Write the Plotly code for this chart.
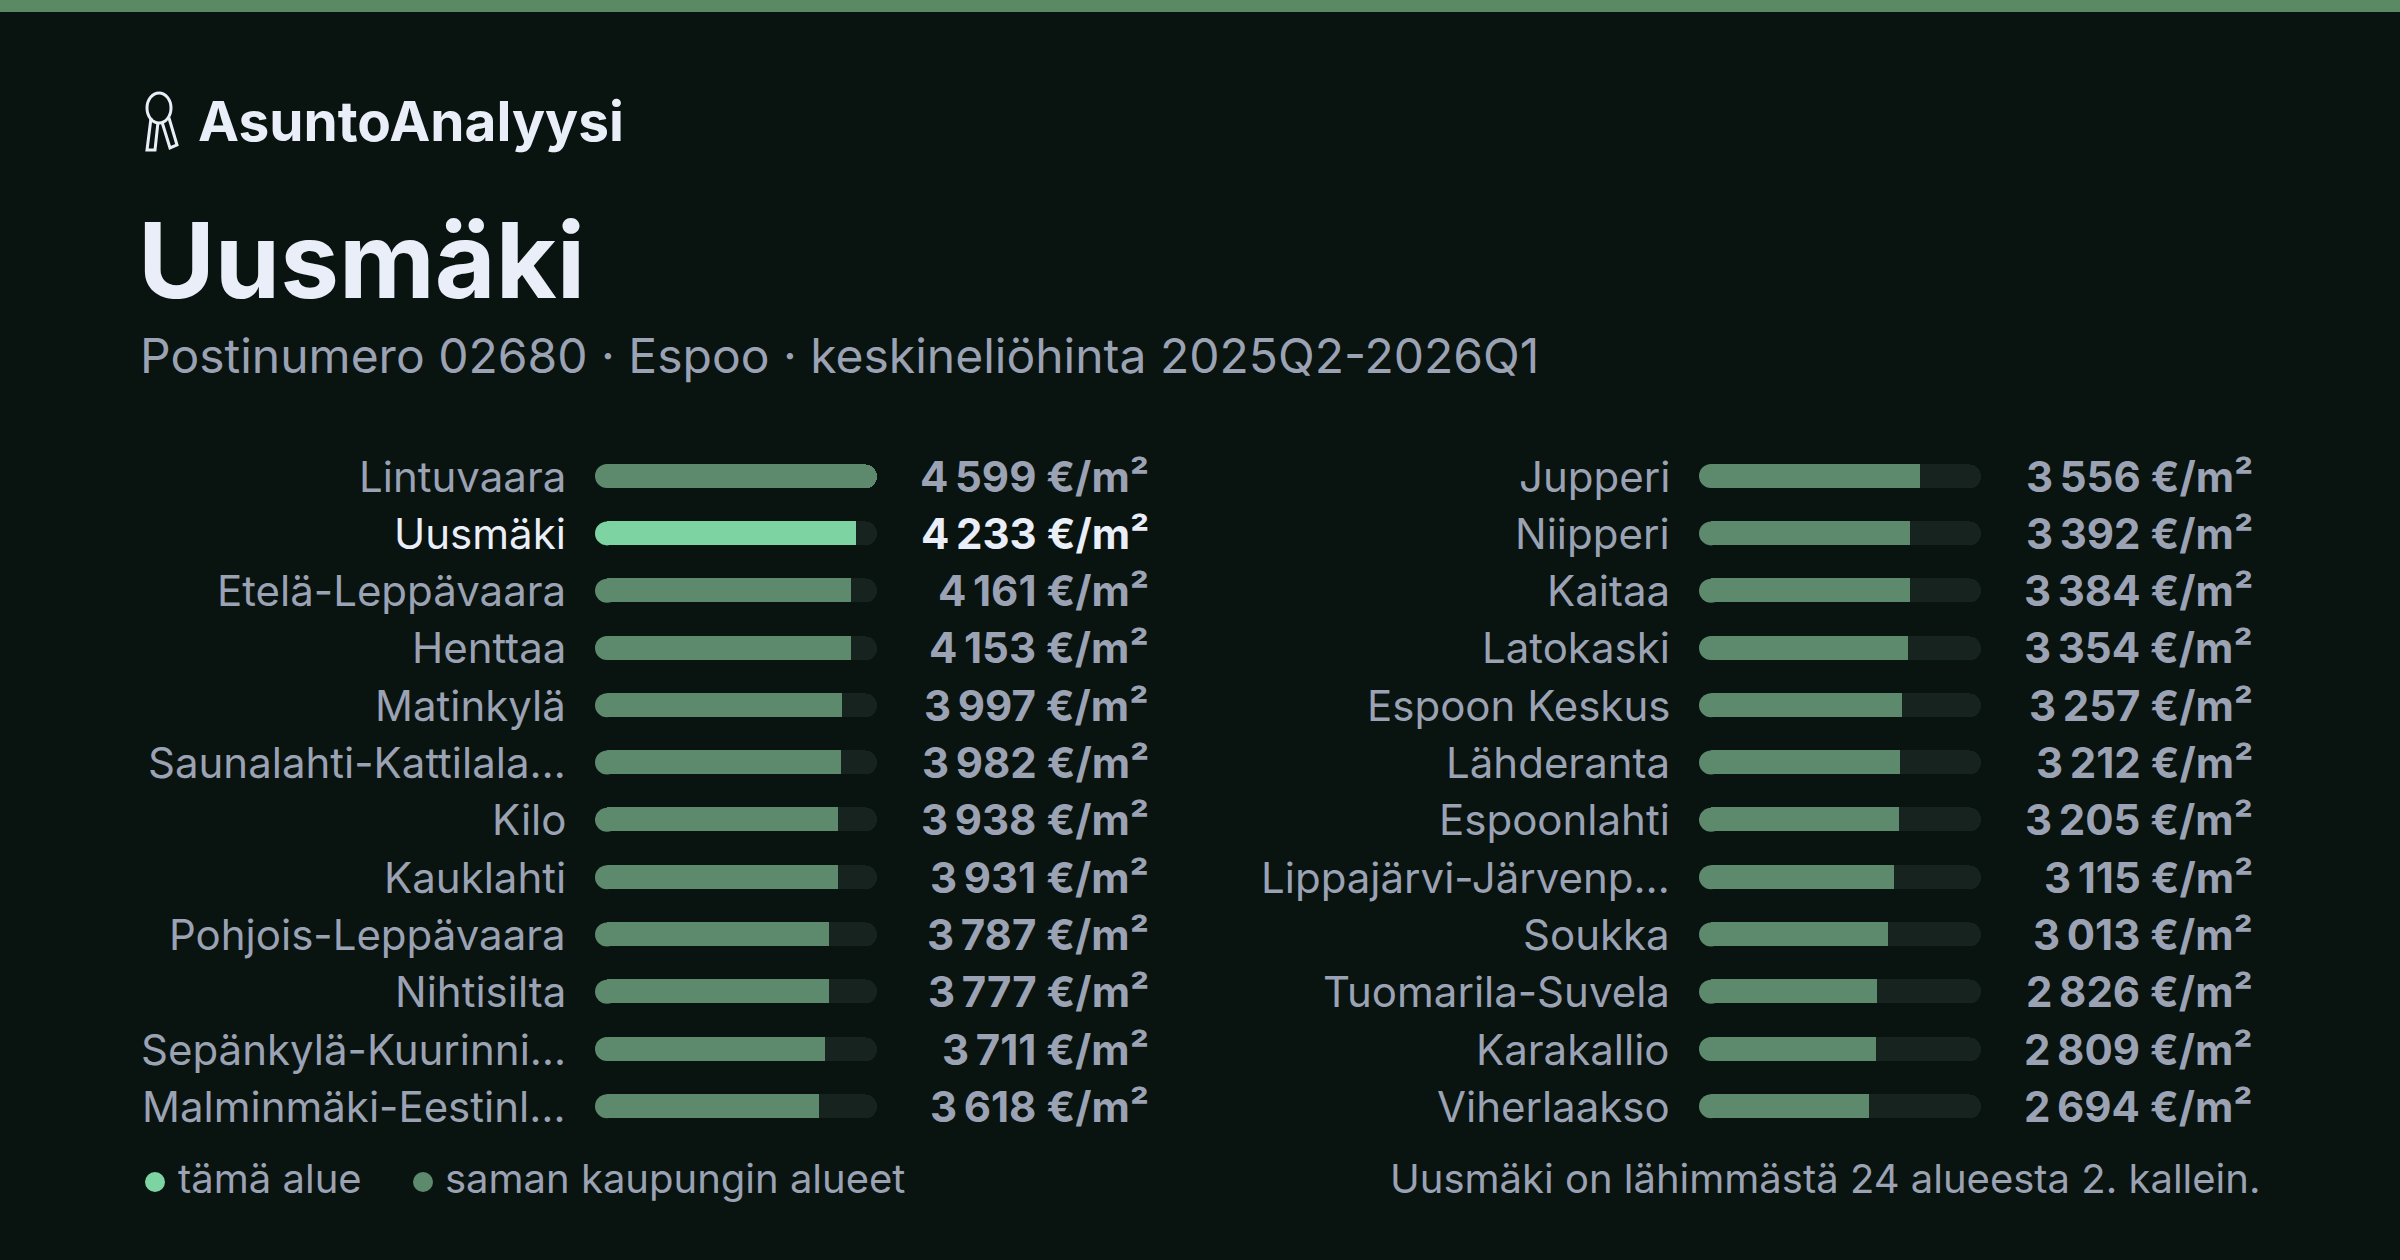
import plotly.graph_objects as go

left_names = ["Lintuvaara", "Uusmäki", "Etelä-Leppävaara", "Henttaa", "Matinkylä", "Saunalahti-Kattilala…",
              "Kilo", "Kauklahti", "Pohjois-Leppävaara", "Nihtisilta", "Sepänkylä-Kuurinni…", "Malminmäki-Eestinl…"]
left_prices = [4599, 4233, 4161, 4153, 3997, 3982, 3938, 3931, 3787, 3777, 3711, 3618]
right_names = ["Jupperi", "Niipperi", "Kaitaa", "Latokaski", "Espoon Keskus", "Lähderanta",
               "Espoonlahti", "Lippajärvi-Järvenp…", "Soukka", "Tuomarila-Suvela", "Karakallio", "Viherlaakso"]
right_prices = [3556, 3392, 3384, 3354, 3257, 3212, 3205, 3115, 3013, 2826, 2809, 2694]
this_area = "Uusmäki"

BG = "#09130f"
WHITE = "#eaeef8"
GREY = "#9aa2b4"
BAR = "#5d8a6d"
HI = "#7dd3a1"
TRACK = "#17231e"
FONT = "Inter"
vmax = max(left_prices + right_prices)

def fmt(v):
    return f"{v:,}".replace(",", "\u202f") + " €/m²"

def px(x):
    return x / 2400

def py(y):
    return 1 - y / 1260

fig = go.Figure()
panels = [(left_names, left_prices, "x", "y", [px(607), px(877)]),
          (right_names, right_prices, "x2", "y2", [px(1711), px(1981)])]
for names, prices, xa, ya, dom in panels:
    cols = [HI if n == this_area else BAR for n in names]
    fig.add_trace(go.Bar(y=names, x=[vmax] * len(names), orientation="h", xaxis=xa, yaxis=ya,
                         marker=dict(color=TRACK, cornerradius=12, line_width=0), width=0.42, hoverinfo="skip"))
    fig.add_trace(go.Bar(y=names, x=prices, orientation="h", xaxis=xa, yaxis=ya,
                         marker=dict(color=cols, cornerradius=12, line_width=0), width=0.42))
    fig.add_trace(go.Scatter(y=names, x=[0] * len(names), mode="markers", xaxis=xa, yaxis=ya, cliponaxis=False,
                             marker=dict(color=cols, size=24, line_width=0), hoverinfo="skip"))
    for n, p in zip(names, prices):
        hi = n == this_area
        fig.add_annotation(xref=xa + " domain", yref=ya, x=1.0, y=n, xshift=274, xanchor="right",
                           text=f"<b>{fmt(p)}</b>", showarrow=False,
                           font=dict(family=FONT, size=42, color=WHITE if hi else GREY))
        fig.add_annotation(xref=xa + " domain", yref=ya, x=0, y=n, xshift=-39, xanchor="right",
                           text=n, showarrow=False,
                           font=dict(family=FONT, size=42, color=WHITE if hi else GREY))
    k = "" if xa == "x" else "2"
    fig.update_layout({
        "xaxis" + k: dict(domain=dom, range=[0, vmax], visible=False, fixedrange=True),
        "yaxis" + k: dict(domain=[0.0992, 0.6449], range=[len(names) - 0.5, -0.5], autorange=False,
                          visible=False, anchor=xa, fixedrange=True),
    })
fig.update_layout(xaxis2_anchor="y2")

def note(x, y, text, size, color, anchor="left"):
    fig.add_annotation(xref="paper", yref="paper", x=px(x), y=py(y), xanchor=anchor, yanchor="middle",
                       text=text, showarrow=False, font=dict(family=FONT, size=size, color=color))

note(196, 121, "<b>AsuntoAnalyysi</b>", 55, WHITE)
note(136, 260, "<b>Uusmäki</b>", 105, WHITE)
note(138, 355, "Postinumero 02680 · Espoo · keskineliöhinta 2025Q2-2026Q1", 48, GREY)
note(176, 1178, "tämä alue", 40, GREY)
note(443, 1178, "saman kaupungin alueet", 40, GREY)
note(2262, 1178, "Uusmäki on lähimmästä 24 alueesta 2. kallein.", 40, GREY, "right")

def circ(x0, y0, x1, y1, **kw):
    return dict(type="circle", xref="paper", yref="paper", x0=px(x0), x1=px(x1), y0=py(y1), y1=py(y0), **kw)

def path(pts):
    return dict(type="path", xref="paper", yref="paper",
                path="M " + " L ".join(f"{px(a)} {py(b)}" for a, b in pts),
                line=dict(color=WHITE, width=3))

shapes = [
    dict(type="rect", xref="paper", yref="paper", x0=0, x1=1, y0=py(12), y1=1, fillcolor="#5a8a63", line_width=0),
    circ(145, 1172, 165, 1192, fillcolor=HI, line_width=0),
    circ(413, 1172, 433, 1192, fillcolor=BAR, line_width=0),
    # key icon
    circ(147, 93, 171, 123, line=dict(color=WHITE, width=3)),
    path([(151, 118), (147, 150), (155, 150), (158, 122)]),
    path([(162, 122), (170, 148), (177, 145), (169, 118)]),
]
fig.update_layout(
    width=2400, height=1260, margin=dict(l=0, r=0, t=0, b=0),
    paper_bgcolor=BG, plot_bgcolor=BG, barmode="overlay", showlegend=False,
    shapes=shapes, bargap=0,
)
fig.write_html("out.html", config={"displayModeBar": False},
               post_script="document.body.style.margin='0';document.body.style.background='" + BG + "';")
